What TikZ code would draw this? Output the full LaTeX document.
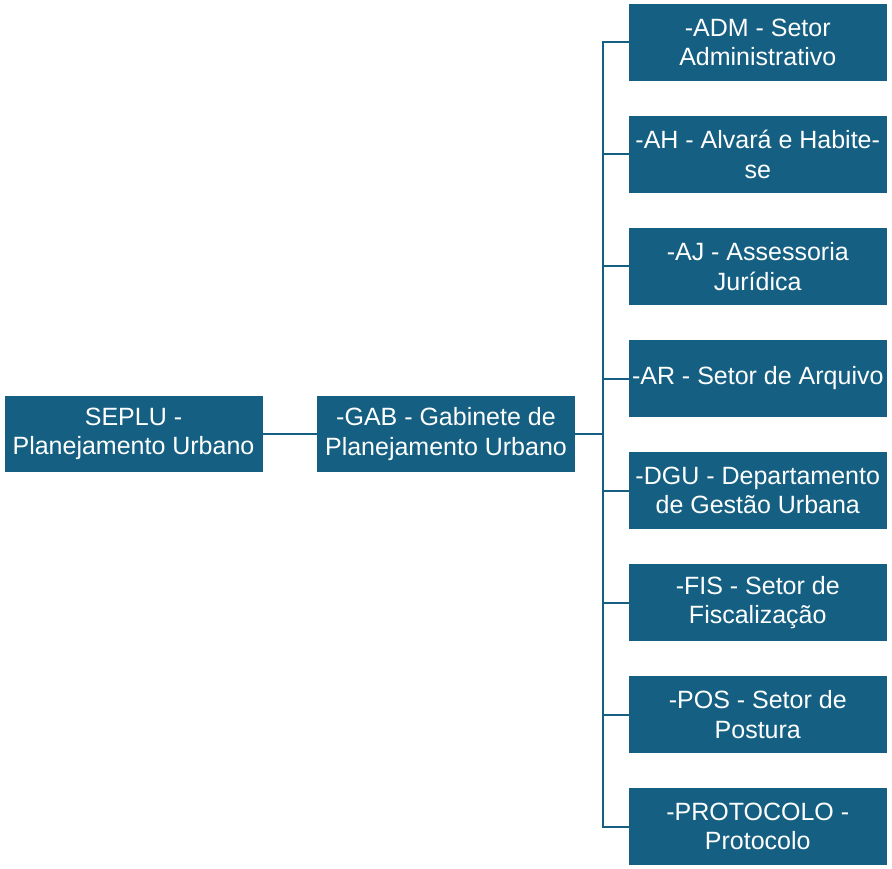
\documentclass[tikz,border=0pt]{standalone}
\usepackage{fontspec}
\setmainfont{Liberation Sans}
\definecolor{boxblue}{HTML}{156082}
\begin{document}
\begin{tikzpicture}[
        x=1pt, y=-1pt,
        unit/.style={rectangle, fill=boxblue, text=white, align=center,
            minimum width=258pt, minimum height=76.5pt, inner sep=0pt,
            font=\fontsize{25}{29.5}\selectfont},
        sector/.style={unit, minimum width=257.5pt},
        link/.style={draw=boxblue, line width=2pt}
    ]
        \useasboundingbox (0,0) rectangle (892,869);
        % Main units
        \node[unit] (seplu) at (133.5,434) {SEPLU -\\Planejamento Urbano};
        \node[unit] (gab) at (446,434) {-GAB - Gabinete de\\Planejamento Urbano};
        \draw[link] (seplu) -- (gab);
        \coordinate (bus) at (602.5,434);
        \draw[link] (gab) -- (bus);
        % Sectors under the cabinet
        \node[sector] (adm) at (757.75,42.5) {-ADM - Setor\\Administrativo};
        \node[sector] (ah) at (757.75,154.5) {-AH - Alvará e Habite-\\se};
        \node[sector] (aj) at (757.75,266.5) {-AJ - Assessoria\\Jurídica};
        \node[sector] (ar) at (757.75,378.5) {-AR - Setor de Arquivo};
        \node[sector] (dgu) at (757.75,490.5) {-DGU - Departamento\\de Gestão Urbana};
        \node[sector] (fis) at (757.75,602.5) {-FIS - Setor de\\Fiscalização};
        \node[sector] (pos) at (757.75,714.5) {-POS - Setor de\\Postura};
        \node[sector] (prot) at (757.75,826.5) {-PROTOCOLO -\\Protocolo};
        \foreach \s in {adm,ah,aj,ar,dgu,fis,pos,prot}
            \draw[link] (bus) |- (\s.west);
    \end{tikzpicture}
\end{document}
